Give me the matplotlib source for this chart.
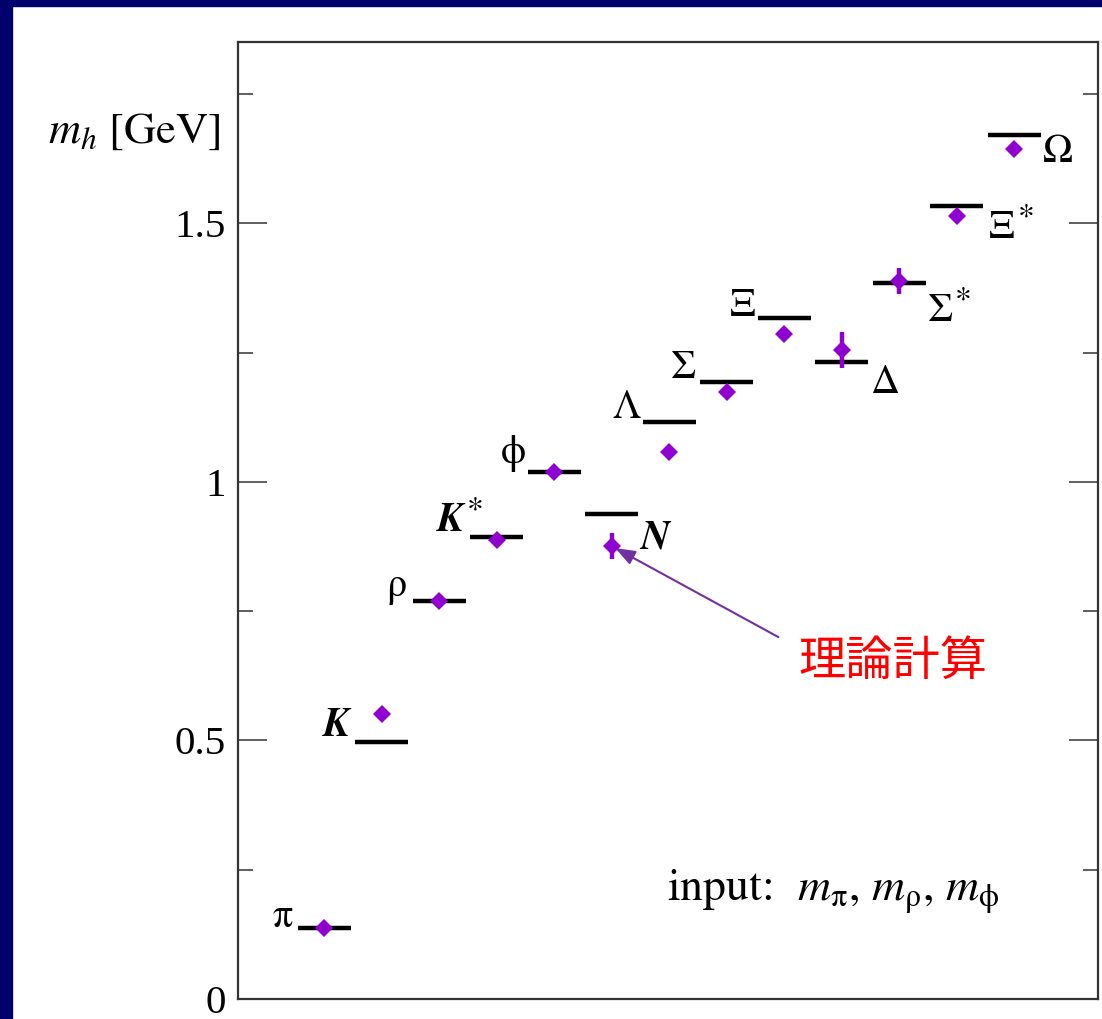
import matplotlib
matplotlib.use("Agg")
import matplotlib.pyplot as plt
from matplotlib.patches import Rectangle
from matplotlib.ticker import MultipleLocator, FixedLocator, FixedFormatter

# ---------------- data ----------------
hadrons = ["π", "K", "ρ", "K*", "ϕ", "N", "Λ", "Σ", "Ξ", "Δ", "Σ*", "Ξ*", "Ω"]
exp_mass = [0.137, 0.497, 0.770, 0.894, 1.019, 0.939, 1.116, 1.193, 1.318, 1.232, 1.385, 1.533, 1.672]
lat_mass = [0.137, 0.551, 0.770, 0.888, 1.019, 0.876, 1.058, 1.174, 1.286, 1.255, 1.389, 1.515, 1.644]
lat_err = [0.0, 0.006, 0.0, 0.008, 0.0, 0.025, 0.010, 0.010, 0.010, 0.035, 0.025, 0.012, 0.010]
yticks = [0, 0.5, 1, 1.5]
ytick_labels = ["0", "0.5", "1", "1.5"]

# label placement: side of the bar, horizontal offset, baseline height
label_side = ["right", "right", "right", "right", "right", "left",
              "right", "right", "right", "left", "left", "left", "left"]
label_dx = [-0.54, -0.56, -0.56, -0.57, -0.50, 0.50, -0.50, -0.54, -0.50, 0.50, 0.49, 0.56, 0.50]
label_y = [0.139, 0.509, 0.780, 0.905, 1.037, 0.872, 1.124, 1.201, 1.321, 1.172, 1.311, 1.472, 1.619]
bold_italic = {"K", "K*", "N"}

serif = ["STIXGeneral", "DejaVu Serif"]
plt.rcParams["mathtext.fontset"] = "stix"
plt.rcParams["font.family"] = ["Liberation Serif", "DejaVu Serif"]

fig = plt.figure(figsize=(11.02, 10.19), dpi=100)
fig.patch.set_facecolor("white")
# navy slide frame (top and left)
fig.patches.append(Rectangle((0, 1 - 6 / 1019), 1, 6 / 1019, transform=fig.transFigure,
                             color="#01016e", zorder=0))
fig.patches.append(Rectangle((0, 0), 12 / 1102, 1, transform=fig.transFigure,
                             color="#01016e", zorder=0))

ax = fig.add_axes([238 / 1102, 1 - 999 / 1019, (1098 - 238) / 1102, (999 - 42) / 1019])
x = list(range(len(hadrons)))

ax.hlines(exp_mass, [i - 0.46 for i in x], [i + 0.46 for i in x], colors="black", lw=3.2, zorder=2)
violet = "#9000d0"
ax.errorbar(x, lat_mass, yerr=lat_err, fmt="D", color=violet, ms=9, mew=0,
            elinewidth=3.2, capsize=0, zorder=3)

for i, (name, side, dx, yy) in enumerate(zip(hadrons, label_side, label_dx, label_y)):
    base = name.rstrip("*")
    bi = name in bold_italic
    t = ax.text(i + dx, yy, base, ha=side, va="baseline", fontsize=29, family=serif,
                fontweight="bold" if bi else "normal", fontstyle="italic" if bi else "normal",
                color="black")
    if name.endswith("*"):
        ax.annotate("*", xy=(1, 0.78), xycoords=t, xytext=(2, 0), textcoords="offset points",
                    ha="left", va="center", fontsize=24, family=serif)

ax.set_xlim(-1.5, 13.46)
ax.set_ylim(0, 1.851)
ax.xaxis.set_ticks([])
ax.yaxis.set_major_locator(FixedLocator(yticks))
ax.yaxis.set_major_formatter(FixedFormatter(ytick_labels))
ax.yaxis.set_minor_locator(MultipleLocator(0.25))
ax.tick_params(axis="y", which="major", direction="in", length=21, width=1.1, color="#333333",
               labelsize=29.5, pad=9, right=True, left=True)
ax.tick_params(axis="y", which="minor", direction="in", length=11, width=1.1, color="#333333",
               right=True, left=True)
for s in ax.spines.values():
    s.set_linewidth(1.6)
    s.set_color("#333333")

# axis label
fig.text(221 / 1102, 1 - 143 / 1019, r"$m_h$ [GeV]", ha="right", va="baseline", fontsize=32,
         family=serif)

# input note
fig.text(667 / 1102, 1 - 900 / 1019,
         r"input:  $m_{\mathrm{π}}$, $m_{\mathrm{ρ}}$, $m_{\mathrm{ϕ}}$",
         ha="left", va="baseline", fontsize=33, family=serif)

# annotation
ax.annotate("", xy=(5.0, lat_mass[5]), xytext=(7.90, 0.700),
            arrowprops=dict(arrowstyle="-|>,head_length=1.2,head_width=0.45", color="#7030a0",
                            lw=1.5, shrinkA=0, shrinkB=3))
fig.text(893 / 1102, 1 - 662 / 1019, "理論計算", ha="center", va="center", fontsize=34,
         color="#ff0000", family=["Noto Sans CJK JP", "DejaVu Sans"])

fig.savefig("out.png", dpi=100)
